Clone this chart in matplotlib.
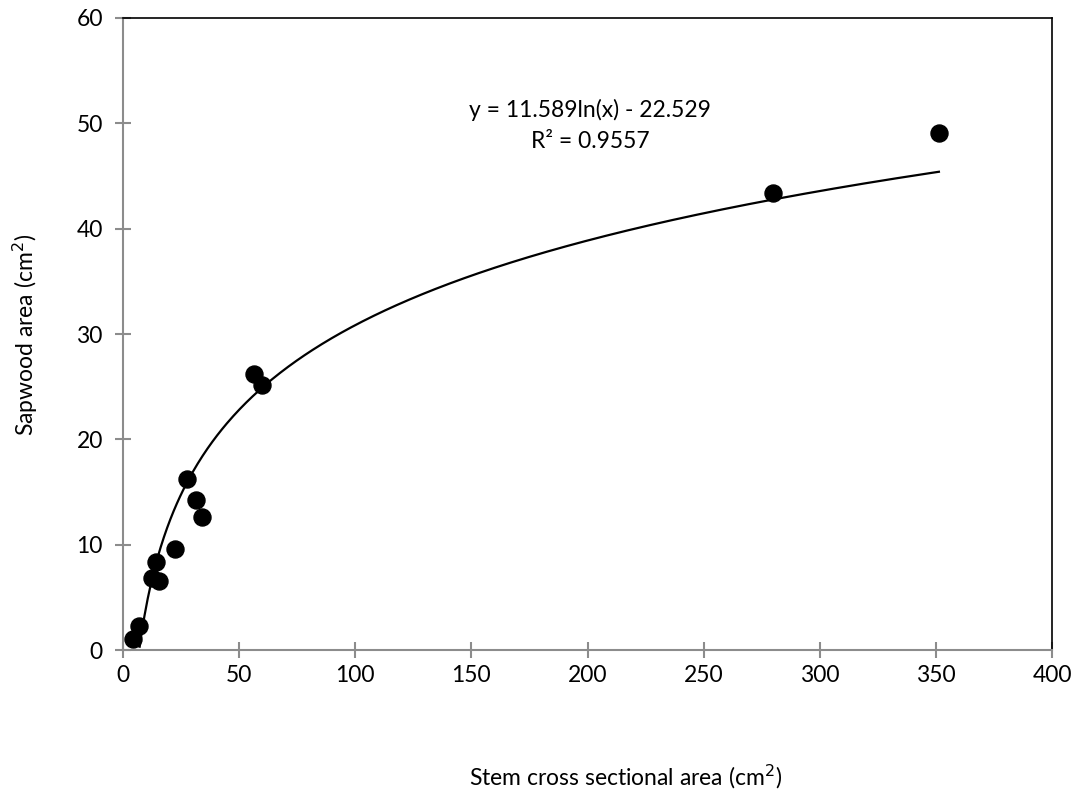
import numpy as np
import matplotlib.pyplot as plt

plt.rcParams['font.family'] = ['Lato', 'DejaVu Sans']

# stem cross sectional area (cm2) vs sapwood area (cm2)
stem_area = [4.4, 7.0, 12.4, 14.2, 15.5, 22.3, 27.7, 31.4, 33.9, 56.5, 59.7, 279.9, 351.3]
sapwood_area = [1.0, 2.3, 6.8, 8.4, 6.55, 9.6, 16.2, 14.2, 12.65, 26.2, 25.2, 43.4, 49.1]

# log trendline
a, b = 11.589, -22.529
r2 = 0.9557

fig = plt.figure(figsize=(10.78, 7.96), dpi=100)
ax = fig.add_axes([0.1141, 0.1834, 0.8618, 0.794])

xs = np.linspace(min(stem_area), max(stem_area), 500)
ys = a * np.log(xs) + b
keep = ys >= 0
ax.plot(xs[keep], ys[keep], color='black', lw=1.6, zorder=2)
ax.scatter(stem_area, sapwood_area, s=150, color='black', zorder=3)

ax.set_xlim(0, 400)
ax.set_ylim(0, 60)
ax.set_xticks(range(0, 401, 50))
ax.set_yticks(range(0, 61, 10))

for side in ['left', 'bottom']:
    ax.spines[side].set_color('#8c8c8c')
    ax.spines[side].set_linewidth(1.5)
for side in ['top', 'right']:
    ax.spines[side].set_color('black')
    ax.spines[side].set_linewidth(1.2)
ax.tick_params(direction='inout', length=11, width=1.5, color='#8c8c8c',
               labelsize=16.5)
ax.tick_params(axis='y', pad=9)
ax.tick_params(axis='x', pad=5)

ax.text(201, 51.3, 'y = 11.589ln(x) - 22.529', ha='center', va='center', fontsize=16.5)
ax.text(201, 48.3, 'R² = %.4f' % r2, ha='center', va='center', fontsize=16.5)

fig.text(626 / 1078, 1 - 777 / 796, 'Stem cross sectional area (cm$^2$)',
         ha='center', va='center', fontsize=16.5)
fig.text(25 / 1078, 1 - 335 / 796, 'Sapwood area (cm$^2$)', rotation=90,
         ha='center', va='center', fontsize=16.5)

fig.savefig('out.png', dpi=100)
